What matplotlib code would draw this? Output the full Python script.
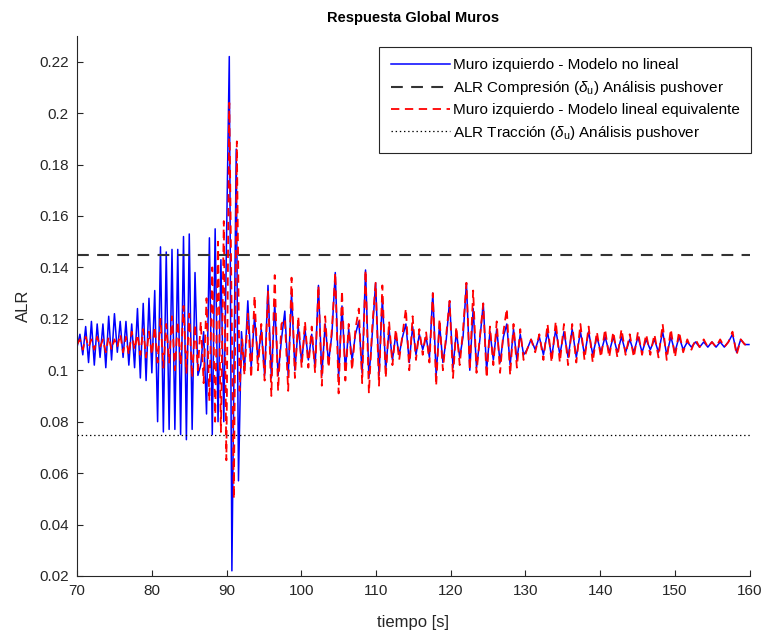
import numpy as np
import matplotlib
matplotlib.use("Agg")
import matplotlib.pyplot as plt

plt.rcParams['font.family'] = ['Liberation Sans', 'DejaVu Sans']
plt.rcParams['mathtext.fontset'] = 'custom'
plt.rcParams['mathtext.rm'] = 'Liberation Sans'
plt.rcParams['mathtext.it'] = 'Liberation Sans:italic'
plt.rcParams['lines.scale_dashes'] = False

# ALR limits from pushover analysis
alr_compresion = 0.145
alr_traccion = 0.075

# peaks / valleys read from the record, sampled on a few regular time grids
# grid A: 70 s .. 89.6 s, step 0.385 s
blue_a = [0.109, 0.114, 0.106, 0.117, 0.103, 0.119, 0.102, 0.118, 0.105, 0.118,
          0.101, 0.121, 0.104, 0.122, 0.107, 0.119, 0.105, 0.119, 0.102, 0.118,
          0.101, 0.124, 0.097, 0.126, 0.096, 0.128, 0.099, 0.131, 0.080, 0.148,
          0.076, 0.146, 0.077, 0.147, 0.077, 0.147, 0.075, 0.152, 0.073, 0.153,
          0.077, 0.138, 0.098, 0.102, 0.115, 0.083, 0.1515, 0.075, 0.155, 0.080,
          0.143, 0.080]
red_a = [0.110, 0.112, 0.108, 0.113, 0.109, 0.112, 0.108, 0.113, 0.109, 0.112,
         0.107, 0.113, 0.108, 0.112, 0.109, 0.114, 0.107, 0.113, 0.106, 0.115,
         0.108, 0.114, 0.106, 0.116, 0.105, 0.115, 0.106, 0.117, 0.103, 0.120,
         0.101, 0.118, 0.103, 0.121, 0.100, 0.119, 0.102, 0.125, 0.099, 0.122,
         0.097, 0.118, 0.100, 0.119, 0.095, 0.128, 0.088, 0.140, 0.080, 0.150,
         0.076, 0.158]

# main spike around 90 s
t_spike_blue = [90.37, 90.72, 91.30, 91.60, 92.00]
blue_spike = [0.222, 0.022, 0.186, 0.057, 0.115]
t_spike_red = [89.98, 90.37, 90.98, 91.38, 91.75, 92.10]
red_spike = [0.065, 0.204, 0.050, 0.189, 0.092, 0.112]

# grid C: 92.4 s .. 129.75 s, step 0.45 s
blue_c = [0.100, 0.127, 0.101, 0.121, 0.104, 0.116, 0.098, 0.133, 0.097, 0.126,
          0.098, 0.112, 0.123, 0.098, 0.130, 0.100, 0.117, 0.103, 0.116, 0.104,
          0.114, 0.101, 0.133, 0.098, 0.118, 0.103, 0.114, 0.138, 0.097, 0.125,
          0.100, 0.116, 0.104, 0.114, 0.119, 0.099, 0.139, 0.097, 0.114, 0.134,
          0.098, 0.128, 0.100, 0.116, 0.104, 0.114, 0.106, 0.113, 0.118, 0.103,
          0.117, 0.106, 0.114, 0.108, 0.113, 0.105, 0.130, 0.098, 0.118, 0.103,
          0.112, 0.127, 0.101, 0.115, 0.105, 0.113, 0.134, 0.100, 0.124, 0.101,
          0.112, 0.126, 0.100, 0.115, 0.104, 0.116, 0.103, 0.113, 0.118, 0.102,
          0.116, 0.104, 0.114, 0.106]
red_c = [0.098, 0.122, 0.097, 0.129, 0.100, 0.118, 0.096, 0.131, 0.090, 0.137,
         0.092, 0.118, 0.120, 0.092, 0.136, 0.097, 0.121, 0.101, 0.119, 0.101,
         0.117, 0.099, 0.133, 0.094, 0.121, 0.101, 0.116, 0.138, 0.091, 0.131,
         0.096, 0.118, 0.100, 0.116, 0.124, 0.095, 0.139, 0.091, 0.117, 0.134,
         0.094, 0.133, 0.097, 0.119, 0.102, 0.116, 0.104, 0.114, 0.124, 0.100,
         0.121, 0.104, 0.116, 0.106, 0.115, 0.103, 0.130, 0.094, 0.120, 0.100,
         0.114, 0.127, 0.097, 0.117, 0.102, 0.116, 0.134, 0.100, 0.131, 0.099,
         0.113, 0.126, 0.097, 0.117, 0.102, 0.119, 0.099, 0.115, 0.124, 0.098,
         0.118, 0.101, 0.116, 0.104]

# grid D: 130.2 s .. 159.9 s, step 0.55 s
blue_d = [0.108, 0.112, 0.108, 0.113, 0.106, 0.115, 0.105, 0.116, 0.106, 0.115,
          0.105, 0.116, 0.105, 0.115, 0.106, 0.115, 0.106, 0.113, 0.107, 0.113,
          0.107, 0.113, 0.107, 0.113, 0.107, 0.112, 0.107, 0.113, 0.107, 0.112,
          0.108, 0.112, 0.107, 0.115, 0.106, 0.113, 0.107, 0.113, 0.108, 0.111,
          0.109, 0.111, 0.109, 0.111, 0.109, 0.111, 0.109, 0.111, 0.109, 0.111,
          0.114, 0.107, 0.112, 0.110, 0.110]
red_d = [0.108, 0.112, 0.107, 0.114, 0.104, 0.118, 0.103, 0.119, 0.103, 0.118,
         0.102, 0.118, 0.103, 0.118, 0.104, 0.117, 0.103, 0.115, 0.105, 0.116,
         0.105, 0.115, 0.105, 0.116, 0.106, 0.114, 0.105, 0.115, 0.106, 0.114,
         0.106, 0.114, 0.105, 0.118, 0.104, 0.116, 0.105, 0.115, 0.107, 0.112,
         0.108, 0.112, 0.109, 0.112, 0.109, 0.111, 0.109, 0.112, 0.109, 0.111,
         0.115, 0.106, 0.112, 0.110, 0.110]

t_a = 70 + 0.385 * np.arange(len(blue_a))
t_c = 92.4 + 0.45 * np.arange(len(blue_c))
t_d = 130.2 + 0.55 * np.arange(len(blue_d))

t_blue = np.concatenate([t_a, t_spike_blue, t_c, t_d])
alr_blue = np.concatenate([blue_a, blue_spike, blue_c, blue_d])
t_red = np.concatenate([t_a, t_spike_red, t_c, t_d])
alr_red = np.concatenate([red_a, red_spike, red_c, red_d])

fig = plt.figure(figsize=(7.65, 6.31), dpi=100)
ax = fig.add_axes([0.1007, 0.0872, 0.8793, 0.8558])

ax.plot(t_blue, alr_blue, color='#0000ff', lw=1.1,
        label='Muro izquierdo - Modelo no lineal')
ax.plot([70, 160], [alr_compresion, alr_compresion], color='#333333', lw=1.5,
        dashes=(8.5, 6), label=r'ALR Compresión ($\delta_\mathrm{u}$) Análisis pushover')
ax.plot(t_red, alr_red, color='#ff0000', lw=1.3, dashes=(6, 4),
        label='Muro izquierdo - Modelo lineal equivalente')
ax.plot([70, 160], [alr_traccion, alr_traccion], color='black', lw=0.9,
        dashes=(1, 2), label=r'ALR Tracción ($\delta_\mathrm{u}$) Análisis pushover')

ax.set_xlim(70, 160)
ax.set_ylim(0.02, 0.23)
ax.set_xticks(np.arange(70, 161, 10))
yt = np.arange(0.02, 0.2201, 0.02)
ax.set_yticks(yt)
ax.set_yticklabels([('%.2f' % v).rstrip('0') for v in yt])

for s in ['top', 'right']:
    ax.spines[s].set_visible(False)
for s in ['left', 'bottom']:
    ax.spines[s].set_color('#262626')
    ax.spines[s].set_linewidth(0.8)
ax.tick_params(direction='in', length=4, width=0.8, colors='#262626',
               labelsize=11, pad=6)

ax.set_title('Respuesta Global Muros', fontsize=10.5, fontweight='bold',
             color='black', pad=10)
ax.set_xlabel('tiempo [s]', fontsize=12, color='#262626', labelpad=12)
ax.set_ylabel('ALR', fontsize=12, color='#262626', labelpad=6)

leg = ax.legend(loc='upper right', bbox_to_anchor=(751 / 765, 1 - 47 / 631),
                bbox_transform=fig.transFigure, borderaxespad=0,
                fontsize=11, handlelength=3.9, handletextpad=0.15,
                labelspacing=0.42, borderpad=0.75, fancybox=False,
                framealpha=1, edgecolor='#262626')
leg.get_frame().set_linewidth(0.8)

fig.savefig('out.png', dpi=100)
